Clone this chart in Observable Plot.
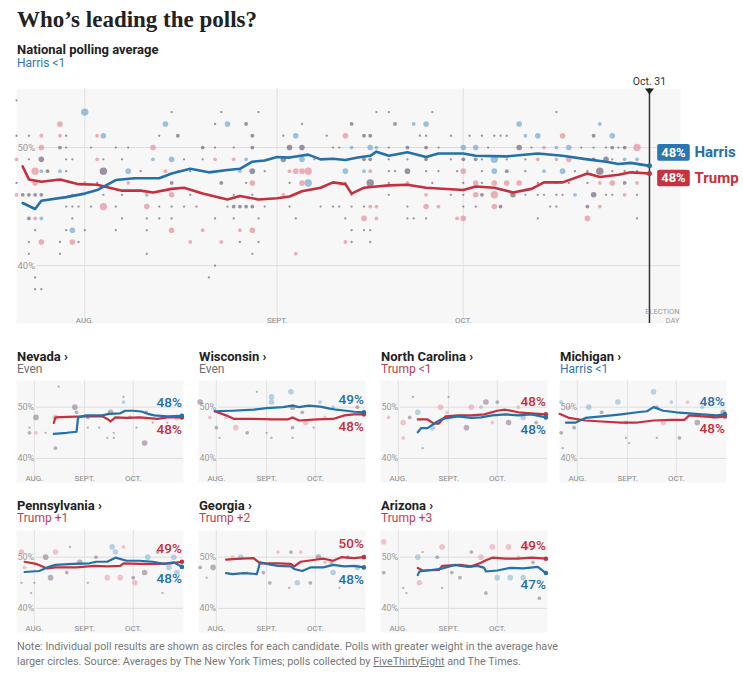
<!DOCTYPE html>
<html lang="en">
<head>
<meta charset="utf-8">
<title>Who’s leading the polls?</title>
<script src="https://cdn.jsdelivr.net/npm/d3@7"></script>
<script src="https://cdn.jsdelivr.net/npm/@observablehq/plot@0.6"></script>
<style>
  html,body{margin:0;padding:0;background:#fff}
  body{position:relative;width:743px;height:675px;overflow:hidden;font-family:Roboto,"Liberation Sans",Arial,sans-serif;color:#121212}
  .a{position:absolute;margin:0;white-space:nowrap}
  #title{left:17px;top:6px;font-family:"Liberation Serif","DejaVu Serif",serif;font-weight:700;font-size:23px;line-height:28px;color:#222}
  #sub{left:17px;top:44px;font-weight:700;font-size:13px;line-height:12px;color:#222}
  #lead{left:17px;top:57.5px;font-size:12px;line-height:11px;color:#2f75ad}
  .st{font-weight:700;font-size:13px;line-height:13px;color:#222}
  .sl{font-size:12px;line-height:12px}
  #note{left:17px;top:640px;font-size:10.8px;line-height:14.5px;color:#777}
  svg{display:block}
</style>
</head>
<body>
<h1 id="title" class="a">Who’s leading the polls?</h1>
<div id="sub" class="a">National polling average</div>
<div id="lead" class="a">Harris &lt;1</div>
<div id="main" class="a" style="left:0;top:70px"></div>
<div id="states"></div>
<p id="note" class="a">Note: Individual poll results are shown as circles for each candidate. Polls with greater weight in the average have<br>larger circles. Source: Averages by The New York Times; polls collected by <u>FiveThirtyEight</u> and The Times.</p>
<script>
// ---------- DATA ----------
const monthTickDates = ["08-01", "09-01", "10-01"];
const monthTickLabels = ["AUG.", "SEPT.", "OCT."];
const yTickValues = [40, 50];

// National polling averages [date, pct]
const natHarris = [["07-22",45.3],["07-24",44.8],["07-25",45.5],["07-29",45.8],["08-01",46.1],["08-03",46.4],["08-06",47.25],["08-09",47.4],["08-13",47.4],["08-15",47.8],["08-18",48.2],["08-21",47.9],["08-24",48.1],["08-26",48.2],["08-28",48.8],["08-30",48.9],["09-01",49.2],["09-03",49.15],["09-06",49.4],["09-08",49.0],["09-10",49.05],["09-12",48.95],["09-14",49.15],["09-16",49.3],["09-17",49.65],["09-19",49.3],["09-22",49.6],["09-25",49.2],["09-27",49.5],["10-01",49.5],["10-03",49.3],["10-08",49.25],["10-13",49.5],["10-17",49.3],["10-21",49.0],["10-24",48.8],["10-26",48.6],["10-28",48.7],["10-31",48.45]];
const natTrump = [["07-22",48.4],["07-23",47.3],["07-25",47.1],["07-28",47.3],["07-31",46.9],["08-03",46.85],["08-05",46.6],["08-07",46.35],["08-10",46.35],["08-12",46.2],["08-15",46.5],["08-17",46.6],["08-20",46.1],["08-24",45.6],["08-26",45.9],["08-29",45.6],["09-01",45.7],["09-03",45.85],["09-05",46.3],["09-08",46.6],["09-10",47.05],["09-12",46.9],["09-13",46.1],["09-15",46.6],["09-17",46.7],["09-19",46.8],["09-22",46.85],["09-25",46.6],["10-01",46.4],["10-03",46.7],["10-06",46.6],["10-09",46.2],["10-12",46.5],["10-14",47.05],["10-17",47.05],["10-21",47.8],["10-23",47.5],["10-26",47.7],["10-28",47.9],["10-31",47.8]];

// National polls [date, pct, weight class 1-4, candidate H/T/B(overlap)]
const natPolls = [
["07-21",54,1,"B"],
["08-01",53,4,"H"],["08-15",53,1,"B"],["08-23",53,1,"B"],["08-29",53,1,"B"],["09-17",53,1,"B"],["09-19",53,1,"B"],["09-26",53,1,"B"],["10-16",53,1,"B"],
["07-28",52,3,"T"],["08-14",52,3,"H"],["08-22",52,1,"B"],["08-24",52,3,"H"],["08-27",52,2,"B"],["09-05",52,1,"B"],["09-13",52,2,"B"],["09-20",52,2,"B"],["09-23",52,2,"H"],["09-25",52,3,"H"],["10-10",52,3,"H"],["10-23",52,2,"H"],
["07-21",51,1,"B"],["07-23",51,1,"B"],["07-25",51,2,"T"],["07-28",51,2,"T"],["07-29",51,1,"B"],["08-03",51,2,"T"],["08-04",51,3,"H"],["08-13",51,1,"B"],["08-16",51,2,"B"],["08-28",51,2,"B"],["09-02",51,1,"B"],["09-04",51,3,"H"],["09-09",51,1,"B"],["09-12",51,3,"T"],["09-15",51,2,"B"],["09-16",51,2,"B"],["09-24",51,1,"B"],["09-25",51,1,"B"],["09-29",51,1,"B"],["10-02",51,1,"B"],["10-04",51,1,"B"],["10-06",51,1,"B"],["10-07",51,1,"B"],["10-08",51,1,"B"],["10-11",51,2,"H"],["10-13",51,3,"H"],["10-17",51,3,"T"],["10-22",51,2,"B"],["10-25",51,3,"H"],
["07-25",50,3,"T"],["07-28",50,2,"B"],["07-29",50,1,"B"],["08-02",50,1,"B"],["08-06",50,1,"B"],["08-08",50,1,"B"],["08-12",50,3,"T"],["08-20",50,2,"B"],["08-22",50,1,"B"],["08-25",50,1,"B"],["08-28",50,2,"B"],["09-03",50,3,"B"],["09-05",50,3,"B"],["09-10",50,1,"B"],["09-11",50,1,"B"],["09-13",50,2,"H"],["09-16",50,3,"H"],["09-17",50,2,"H"],["09-19",50,1,"B"],["09-22",50,2,"B"],["09-25",50,2,"B"],["09-27",50,1,"B"],["10-01",50,3,"H"],["10-03",50,3,"H"],["10-05",50,1,"B"],["10-10",50,3,"B"],["10-12",50,1,"B"],["10-14",50,2,"T"],["10-16",50,2,"H"],["10-18",50,3,"H"],["10-20",50,1,"B"],["10-22",50,1,"B"],["10-24",50,1,"B"],["10-25",50,2,"B"],["10-26",50,1,"B"],["10-27",50,2,"B"],["10-29",50,4,"T"],
["07-21",49,2,"T"],["07-23",49,1,"B"],["07-25",49,3,"B"],["07-29",49,1,"B"],["07-30",49,1,"B"],["08-03",49,2,"T"],["08-04",49,1,"B"],["08-07",49,1,"B"],["08-12",49,2,"H"],["08-15",49,3,"H"],["08-17",49,1,"B"],["08-20",49,1,"B"],["08-22",49,2,"T"],["08-25",49,2,"T"],["08-27",49,2,"H"],["09-02",49,3,"B"],["09-05",49,3,"H"],["09-07",49,1,"B"],["09-15",49,2,"B"],["09-16",49,2,"B"],["09-19",49,1,"B"],["09-22",49,1,"B"],["09-25",49,2,"B"],["09-29",49,1,"B"],["10-01",49,2,"B"],["10-03",49,2,"B"],["10-04",49,1,"B"],["10-06",49,4,"H"],["10-08",49,1,"B"],["10-11",49,1,"B"],["10-13",49,2,"T"],["10-16",49,2,"T"],["10-18",49,3,"T"],["10-22",49,2,"B"],["10-24",49,3,"B"],["10-25",49,1,"B"],["10-27",49,2,"H"],["10-29",49,2,"H"],
["07-24",48,4,"T"],["07-25",48,2,"H"],["07-26",48,2,"B"],["07-28",48,2,"H"],["07-29",48,1,"B"],["08-04",48,4,"B"],["08-08",48,3,"H"],["08-10",48,1,"B"],["08-14",48,2,"T"],["08-16",48,1,"B"],["08-18",48,1,"B"],["08-20",48,1,"B"],["08-23",48,1,"B"],["08-26",48,2,"H"],["08-28",48,3,"B"],["08-30",48,1,"B"],["09-03",48,2,"T"],["09-04",48,3,"T"],["09-05",48,3,"T"],["09-06",48,4,"T"],["09-12",48,3,"H"],["09-15",48,2,"H"],["09-16",48,2,"T"],["09-19",48,1,"B"],["09-20",48,1,"B"],["09-22",48,3,"B"],["09-25",48,1,"B"],["09-27",48,1,"B"],["09-30",48,1,"B"],["10-01",48,3,"T"],["10-04",48,1,"B"],["10-06",48,3,"H"],["10-08",48,2,"B"],["10-11",48,1,"B"],["10-14",48,2,"H"],["10-17",48,3,"H"],["10-19",48,1,"B"],["10-21",48,1,"B"],["10-23",48,4,"B"],["10-25",48,1,"B"],["10-27",48,1,"B"],["10-29",48,1,"B"],
["07-21",47,1,"B"],["07-24",47,3,"T"],["07-30",47,1,"B"],["08-01",47,2,"T"],["08-03",47,1,"B"],["08-08",47,2,"T"],["08-15",47,2,"B"],["08-23",47,2,"B"],["08-27",47,1,"B"],["08-28",47,3,"T"],["09-03",47,1,"B"],["09-05",47,3,"T"],["09-06",47,4,"H"],["09-10",47,1,"B"],["09-12",47,1,"B"],["09-16",47,4,"B"],["09-19",47,1,"B"],["09-22",47,2,"T"],["09-26",47,1,"B"],["10-01",47,1,"B"],["10-03",47,3,"T"],["10-04",47,1,"B"],["10-06",47,3,"T"],["10-08",47,3,"T"],["10-10",47,3,"T"],["10-13",47,1,"B"],["10-16",47,1,"B"],["10-18",47,1,"B"],["10-21",47,1,"B"],["10-23",47,2,"T"],["10-25",47,3,"T"],["10-27",47,2,"B"],["10-29",47,2,"T"],
["07-21",46,2,"T"],["07-22",46,2,"B"],["07-23",46,2,"B"],["07-24",46,2,"B"],["07-25",46,2,"B"],["07-30",46,1,"B"],["08-04",46,1,"B"],["08-07",46,1,"B"],["08-11",46,2,"H"],["08-15",46,3,"T"],["08-18",46,1,"B"],["08-25",46,1,"B"],["08-28",46,1,"B"],["09-02",46,2,"T"],["09-13",46,1,"B"],["09-19",46,1,"B"],["09-25",46,2,"T"],["09-29",46,1,"B"],["10-01",46,1,"B"],["10-03",46,3,"T"],["10-04",46,2,"B"],["10-06",46,4,"T"],["10-09",46,3,"B"],["10-11",46,1,"B"],["10-13",46,1,"B"],["10-14",46,1,"B"],["10-16",46,1,"B"],["10-17",46,1,"B"],["10-19",46,2,"H"],["10-22",46,3,"B"],["10-24",46,1,"B"],["10-25",46,1,"B"],["10-27",46,2,"T"],["10-29",46,1,"B"],
["07-29",45,1,"B"],["07-30",45,1,"B"],["07-31",45,1,"B"],["08-02",45,1,"B"],["08-04",45,4,"T"],["08-06",45,1,"B"],["08-11",45,3,"T"],["08-13",45,1,"B"],["08-15",45,1,"B"],["08-17",45,1,"B"],["08-19",45,1,"B"],["08-24",45,1,"B"],["08-25",45,2,"B"],["08-26",45,2,"B"],["08-27",45,2,"B"],["08-28",45,2,"B"],["08-30",45,1,"B"],["09-03",45,1,"B"],["09-08",45,1,"B"],["09-10",45,1,"B"],["09-11",45,1,"B"],["09-13",45,1,"B"],["09-15",45,1,"B"],["09-16",45,2,"T"],["09-17",45,2,"T"],["09-22",45,1,"B"],["09-25",45,3,"T"],["09-27",45,2,"T"],["10-01",45,1,"B"],["10-03",45,1,"B"],["10-06",45,3,"T"],["10-07",45,2,"B"],["10-15",45,1,"B"],["10-16",45,1,"B"],["10-21",45,2,"B"],["10-23",45,2,"T"],
["07-23",44,2,"B"],["07-24",44,2,"T"],["07-25",44,2,"H"],["07-30",44,1,"B"],["08-07",44,1,"B"],["08-11",44,1,"B"],["08-13",44,1,"B"],["08-15",44,1,"B"],["08-22",44,1,"B"],["08-25",44,1,"B"],["08-29",44,1,"B"],["09-04",44,1,"B"],["09-12",44,1,"B"],["09-15",44,3,"T"],["09-17",44,2,"T"],["09-22",44,1,"B"],["09-23",44,1,"B"],["09-25",44,1,"B"],["09-30",44,2,"T"],["10-01",44,3,"T"],["10-13",44,1,"B"],["10-21",44,3,"T"],["10-29",44,1,"B"],
["07-24",43,1,"B"],["07-29",43,1,"B"],["07-30",43,3,"H"],["08-01",43,1,"B"],["08-06",43,1,"B"],["08-11",43,1,"B"],["08-15",43,3,"T"],["08-20",43,2,"T"],["08-26",43,2,"T"],["08-28",43,3,"T"],["09-13",43,1,"B"],["09-15",43,1,"B"],["09-16",43,1,"B"],
["07-23",42,1,"B"],["07-25",42,3,"T"],["07-28",42,1,"B"],["07-30",42,3,"T"],["07-31",42,1,"B"],["08-18",42,2,"T"],["08-23",42,2,"T"],["08-26",42,1,"B"],["08-29",42,1,"B"],["09-12",42,2,"T"],["09-13",42,1,"B"],["09-16",42,1,"B"],
["07-23",41,1,"B"],["07-28",41,1,"B"],["08-11",41,1,"B"],["08-28",41,1,"B"],["09-04",41,2,"T"],
["08-22",40,1,"B"],
["07-24",39,1,"B"],["08-21",39,1,"B"],
["07-24",38,1,"B"],["07-25",38,1,"B"]
];

// Battleground states
const stateNames = ["Nevada", "Wisconsin", "North Carolina", "Michigan", "Pennsylvania", "Georgia", "Arizona"];
const stateLeads = ["Even", "Even", "Trump <1", "Harris <1", "Trump +1", "Trump +2", "Trump +3"];
const stateHarrisLabels = [48, 49, 48, 48, 48, 48, 47];
const stateTrumpLabels = [48, 48, 48, 48, 49, 50, 49];

const nvHarris = [["08-13",44.8],["08-21",45.0],["08-27",45.2],["08-28",48.0],["09-02",48.4],["09-12",48.4],["09-16",48.7],["09-23",48.8],["09-26",49.3],["10-01",49.3],["10-06",49.15],["10-10",48.7],["10-14",48.4],["10-22",48.2],["10-31",48.3]];
const nvTrump = [["08-13",46.9],["08-14",48.0],["08-21",48.1],["09-02",48.2],["09-12",48.2],["09-15",47.7],["09-17",47.2],["09-20",48.0],["09-27",47.9],["10-05",48.0],["10-16",47.7],["10-22",48.0],["10-31",48.0]];
const nvPolls = [["08-02",48,3,"B"],["07-29",46,1,"B"],["07-29",45,2,"B"],["08-02",45,2,"T"],["08-08",45,1,"B"],["08-14",48,3,"T"],["08-14",42,2,"B"],["08-26",50,3,"B"],["08-27",49,2,"B"],["09-03",48,2,"B"],["09-03",46,1,"B"],["09-10",46,1,"B"],["09-17",49,3,"B"],["09-19",45,1,"B"],["09-15",44,1,"B"],["09-19",44,1,"B"],["09-25",52,1,"B"],["09-25",51,2,"H"],["09-29",48,2,"B"],["10-03",46,1,"B"],["10-08",43,3,"B"],["10-09",49,2,"B"],["10-13",47,1,"B"],["10-22",47,1,"B"],["10-26",46,1,"B"],["10-28",48,3,"T"],["08-16",54,1,"B"]];

const wiHarris = [["07-31",49.2],["08-11",49.3],["08-24",49.5],["09-01",49.8],["09-11",50.0],["09-17",50.3],["09-21",50.0],["09-27",50.3],["10-04",50.1],["10-10",49.7],["10-14",49.5],["10-20",49.3],["10-25",49.1],["10-31",49.0]];
const wiTrump = [["07-31",49.2],["08-07",48.4],["08-12",47.7],["08-24",47.7],["09-05",47.6],["09-14",47.6],["09-17",48.0],["09-21",47.4],["10-02",47.6],["10-12",47.7],["10-19",48.4],["10-25",48.6],["10-31",48.6]];
const wiPolls = [["07-22",51,3,"B"],["07-28",48,2,"T"],["08-01",46,2,"B"],["08-07",48,2,"T"],["08-13",46,3,"T"],["08-03",44,1,"B"],["08-20",45,2,"B"],["08-26",53,1,"B"],["09-04",52,3,"H"],["09-04",51,3,"H"],["09-04",44,1,"B"],["09-01",45,1,"B"],["09-16",53,3,"H"],["09-17",50,3,"B"],["09-17",46,2,"B"],["09-17",44,1,"B"],["09-23",49,2,"B"],["09-25",47,3,"T"],["09-30",46,1,"B"],["10-04",51,2,"H"],["10-07",48,2,"T"],["10-12",50,2,"H"],["10-19",51,2,"H"],["10-23",47,2,"T"],["10-27",50,2,"B"]];

const ncHarris = [["08-13",45.1],["08-15",45.9],["08-19",45.9],["08-24",47.0],["08-28",47.7],["09-07",48.2],["09-15",47.9],["09-21",48.0],["09-28",48.4],["10-06",48.6],["10-14",48.4],["10-22",48.6],["10-31",48.0]];
const ncTrump = [["08-13",47.6],["08-19",47.6],["08-23",46.8],["08-26",46.8],["08-30",48.2],["09-07",48.4],["09-15",48.4],["09-23",48.6],["10-01",49.3],["10-06",49.5],["10-14",49.0],["10-22",48.8],["10-31",48.6]];
const ncPolls = [["07-26",48,2,"T"],["08-04",47,3,"T"],["08-04",44,2,"T"],["08-08",48,2,"B"],["08-13",49,3,"H"],["08-22",46,3,"H"],["08-27",50,3,"T"],["08-31",49,2,"T"],["09-12",46,3,"B"],["09-15",50,3,"T"],["09-21",50,2,"H"],["09-24",51,3,"B"],["09-28",47,2,"T"],["10-01",51,2,"B"],["10-08",47,3,"B"],["10-14",50,2,"T"],["10-17",48,3,"H"],["10-19",51,2,"T"],["10-25",47,2,"B"],["08-10",52,1,"B"],["08-16",42,1,"B"],["09-01",52,1,"B"]];

const miHarris = [["07-25",47.0],["07-31",47.0],["08-06",47.9],["08-16",48.2],["08-28",48.6],["09-07",49.0],["09-13",49.2],["09-17",50.0],["09-23",49.3],["10-01",49.0],["10-09",48.8],["10-17",48.6],["10-26",48.4],["10-31",48.6]];
const miTrump = [["07-21",48.7],["07-27",47.9],["08-06",47.4],["08-16",47.2],["08-28",47.0],["09-07",47.0],["09-17",47.4],["09-28",47.5],["10-06",47.5],["10-09",48.4],["10-17",48.2],["10-26",48.0],["10-31",48.2]];
const miPolls = [["07-22",51,2,"H"],["07-22",45,2,"B"],["07-23",42,1,"B"],["07-27",50,2,"T"],["07-30",46,2,"B"],["08-08",50,3,"H"],["08-16",49,2,"B"],["08-26",51,3,"H"],["08-31",47,2,"B"],["08-31",44,1,"B"],["09-02",43,1,"B"],["09-17",53,3,"H"],["09-19",50,2,"B"],["09-19",44,1,"B"],["09-23",47,3,"T"],["09-28",51,2,"H"],["10-03",44,2,"B"],["10-08",51,2,"T"],["10-14",47,3,"B"],["10-17",50,2,"H"],["10-24",48,2,"T"],["10-30",49,3,"B"]];

const paHarris = [["07-26",47.1],["08-04",47.3],["08-09",48.0],["08-14",48.5],["08-25",48.7],["09-04",48.8],["09-08",49.1],["09-15",49.1],["09-20",49.9],["09-27",49.3],["10-05",49.3],["10-13",49.1],["10-20",48.7],["10-26",49.0],["10-31",48.1]];
const paTrump = [["07-26",49.1],["08-02",48.7],["08-09",47.8],["08-14",48.0],["08-27",48.0],["09-07",48.3],["09-15",48.2],["09-23",48.3],["09-25",48.8],["10-05",48.7],["10-16",48.7],["10-24",48.8],["10-31",49.1]];
const paPolls = [["07-24",51,3,"T"],["07-26",48,2,"T"],["07-24",45,1,"B"],["07-30",43,1,"B"],["08-01",45,1,"B"],["08-08",50,3,"B"],["08-11",46,3,"B"],["08-14",51,3,"T"],["08-21",47,2,"B"],["08-23",52,1,"B"],["08-29",49,3,"B"],["09-03",45,1,"B"],["09-08",50,2,"B"],["09-15",46,3,"T"],["09-18",52,3,"H"],["09-20",51,3,"H"],["09-23",46,3,"T"],["09-25",52,2,"T"],["10-01",46,2,"B"],["10-02",45,3,"T"],["10-08",47,3,"B"],["10-10",50,3,"H"],["10-16",51,2,"B"],["10-19",43,1,"B"],["10-23",48,3,"H"],["10-26",50,3,"H"],["10-28",47,3,"H"]];

const gaHarris = [["08-07",46.9],["08-11",46.7],["08-18",46.9],["08-26",46.7],["08-28",49.0],["09-01",48.7],["09-08",48.3],["09-16",48.2],["09-18",47.7],["09-23",47.3],["09-28",48.0],["10-06",48.0],["10-12",48.5],["10-19",48.2],["10-25",48.3],["10-31",48.0]];
const gaTrump = [["08-07",49.5],["08-16",49.7],["08-24",49.8],["08-28",48.8],["09-08",48.8],["09-16",48.7],["09-18",48.2],["09-22",49.1],["10-01",49.5],["10-06",49.7],["10-12",49.3],["10-17",50.0],["10-25",49.8],["10-31",50.0]];
const gaPolls = [["07-22",48,2,"B"],["07-30",48,3,"B"],["07-26",46,1,"B"],["08-11",50,2,"T"],["08-16",50,3,"H"],["08-20",47,1,"B"],["08-30",47,2,"B"],["09-03",45,2,"B"],["09-08",51,2,"T"],["09-15",44,1,"B"],["09-16",51,2,"B"],["09-20",45,3,"H"],["09-22",51,2,"T"],["09-28",45,2,"B"],["10-03",50,3,"B"],["10-07",49,2,"T"],["10-11",49,2,"B"],["10-12",47,3,"H"],["10-16",44,1,"B"],["10-17",52,2,"T"],["10-21",50,2,"B"],["10-27",48,3,"H"]];

const azHarris = [["08-13",46.5],["08-14",47.2],["08-19",47.4],["08-27",47.7],["09-05",48.5],["09-13",48.1],["09-19",48.3],["09-23",47.9],["09-24",47.2],["10-01",47.4],["10-09",47.9],["10-17",47.8],["10-26",48.1],["10-31",46.9]];
const azTrump = [["08-13",47.9],["08-16",47.4],["08-26",47.5],["08-28",48.3],["09-08",48.5],["09-15",48.2],["09-21",48.9],["09-24",49.4],["09-28",49.9],["10-06",49.7],["10-14",49.7],["10-22",49.9],["10-31",49.7]];
const azPolls = [["07-23",53,3,"T"],["07-23",47,2,"B"],["08-04",44,1,"B"],["08-06",43,1,"B"],["08-13",50,3,"H"],["08-14",45,3,"T"],["08-16",51,1,"B"],["08-25",50,2,"B"],["08-28",44,1,"B"],["08-28",52,3,"T"],["09-03",47,2,"B"],["09-08",46,2,"B"],["09-15",51,2,"B"],["09-21",50,3,"T"],["09-24",43,2,"B"],["09-28",52,3,"T"],["10-01",46,3,"H"],["10-08",52,3,"T"],["10-09",46,3,"H"],["10-14",50,2,"T"],["10-17",46,3,"H"],["10-19",52,3,"T"],["10-23",49,2,"B"],["10-27",42,2,"B"]];

const stateHarrisLines = [nvHarris, wiHarris, ncHarris, miHarris, paHarris, gaHarris, azHarris];
const stateTrumpLines = [nvTrump, wiTrump, ncTrump, miTrump, paTrump, gaTrump, azTrump];
const statePolls = [nvPolls, wiPolls, ncPolls, miPolls, paPolls, gaPolls, azPolls];

// ---------- HELPERS & STYLE ----------
const BLUE = "#2470a8", RED = "#c62f3d";
const BLUE_BOX = "#2b76b0", RED_BOX = "#c8313e";
const BG = "#f7f7f7";
const parse = s => new Date(`2024-${s}T00:00:00Z`);
const lineRows = arr => arr.map(([d, v]) => ({date: parse(d), pct: v}));
const pollRows = arr => arr.map(([d, v, s, c]) => ({date: parse(d), pct: v, size: s, cand: c}));
const RADIUS = [0, 1.15, 1.9, 2.8, 3.7];
const dotColor = {type: "ordinal", domain: ["H", "T", "B"], range: ["#78abd0", "#e4929e", "#7a6880"]};
const rScale = {type: "linear", domain: [0, 10], range: [0, 10]};
const monthTicks = monthTickDates.map(parse);

const boxSymbol = {draw(ctx) {
  const w = 16.3, h = 8.3, r = 2;
  ctx.moveTo(-w + r, -h); ctx.lineTo(w - r, -h); ctx.arcTo(w, -h, w, -h + r, r);
  ctx.lineTo(w, h - r); ctx.arcTo(w, h, w - r, h, r);
  ctx.lineTo(-w + r, h); ctx.arcTo(-w, h, -w, h - r, r);
  ctx.lineTo(-w, -h + r); ctx.arcTo(-w, -h, -w + r, -h, r); ctx.closePath();
}};
const triSymbol = {draw(ctx) { ctx.moveTo(-4.5, 0); ctx.lineTo(4.5, 0); ctx.lineTo(0, 6); ctx.closePath(); }};

function baseMarks(opts) {
  return [
    Plot.frame({fill: BG, stroke: null}),
    Plot.ruleX(monthTicks, {x: d => d, stroke: "#e2e2e2", strokeWidth: 1}),
    Plot.ruleY(yTickValues, {y: d => d, stroke: "#dddddd", insetLeft: opts.gridInset}),
    Plot.text(yTickValues, {y: d => d, text: d => d + "%", frameAnchor: "left", textAnchor: "start", dx: 1, fill: "#9a9a9a", fontSize: opts.tickFont}),
    Plot.text(monthTicks, {x: d => d, text: (d, i) => monthTickLabels[i], frameAnchor: "bottom", lineAnchor: "bottom", dy: opts.monthDy, fill: "#8a8a8a", fontSize: 8})
  ];
}

// ---------- MAIN CHART ----------
const natH = lineRows(natHarris), natT = lineRows(natTrump);
const natHEnd = natH[natH.length - 1], natTEnd = natT[natT.length - 1];
const oct31 = parse("10-31"), electionDay = parse("11-05");
const natLabels = [
  {row: natHEnd, name: "Harris", box: BLUE_BOX, color: BLUE, dy: -13.5},
  {row: natTEnd, name: "Trump", box: RED_BOX, color: RED, dy: 4.5}
];

const mainPlot = Plot.plot({
  width: 743, height: 260,
  marginTop: 18, marginBottom: 7, marginLeft: 16, marginRight: 63,
  x: {type: "utc", domain: [parse("07-21"), electionDay], axis: null},
  y: {domain: [35.1, 55], axis: null},
  r: rScale, color: dotColor,
  style: {fontFamily: "Roboto, 'Liberation Sans', sans-serif", overflow: "visible", background: "transparent"},
  marks: [
    ...baseMarks({gridInset: 20, tickFont: 9.5, monthDy: -1}),
    Plot.dot(pollRows(natPolls), {x: "date", y: "pct", r: d => RADIUS[d.size], fill: "cand", fillOpacity: 0.72}),
    Plot.ruleX([oct31], {x: d => d, stroke: "#333", strokeWidth: 1.5}),
    Plot.dot([oct31], {x: d => d, frameAnchor: "top", symbol: triSymbol, fill: "#222", r: 5}),
    Plot.text([oct31], {x: d => d, text: () => "Oct. 31", frameAnchor: "top", lineAnchor: "bottom", dy: -4, fontSize: 10.5, fill: "#333"}),
    Plot.text([electionDay], {x: d => d, text: () => "ELECTION\nDAY", frameAnchor: "bottom", lineAnchor: "bottom", textAnchor: "end", dx: -1, dy: -1, fontSize: 7.5, lineHeight: 1.15, fill: "#9a9a9a"}),
    Plot.line(natT, {x: "date", y: "pct", stroke: RED, strokeWidth: 2.6}),
    Plot.line(natH, {x: "date", y: "pct", stroke: BLUE, strokeWidth: 2.6}),
    Plot.dot([natTEnd], {x: "date", y: "pct", fill: RED, r: 2.5}),
    Plot.dot([natHEnd], {x: "date", y: "pct", fill: BLUE, r: 2.5}),
    ...natLabels.flatMap(l => [
      Plot.dot([l.row], {x: "date", y: "pct", symbol: boxSymbol, fill: l.box, r: 5, dx: 24, dy: l.dy}),
      Plot.text([l.row], {x: "date", y: "pct", text: d => Math.round(d.pct) + "%", fill: "white", fontWeight: 700, fontSize: 13, dx: 24, dy: l.dy}),
      Plot.text([l.row], {x: "date", y: "pct", text: () => l.name, fill: l.color, fontWeight: 700, fontSize: 15, textAnchor: "start", dx: 45, dy: l.dy})
    ])
  ]
});
document.getElementById("main").appendChild(mainPlot);

// ---------- STATE SMALL MULTIPLES ----------
const colLeft = [16, 198, 380, 559];
const rowTop = [380, 530];
const rowTitleTop = [349.8, 498.8];
const statesEl = document.getElementById("states");

stateNames.forEach((name, i) => {
  const col = i < 4 ? i : i - 4, row = i < 4 ? 0 : 1;
  const left = colLeft[col];
  const lead = stateLeads[i];
  const leadColor = lead.startsWith("Trump") ? "#c23c50" : lead.startsWith("Harris") ? "#2f75ad" : "#6f6f6f";

  const t = document.createElement("div");
  t.className = "a st";
  t.style.left = (left + 1) + "px"; t.style.top = rowTitleTop[row] + "px";
  t.textContent = name + " ›";
  statesEl.appendChild(t);
  const s = document.createElement("div");
  s.className = "a sl";
  s.style.left = (left + 1) + "px"; s.style.top = (rowTitleTop[row] + 13.6) + "px";
  s.style.color = leadColor;
  s.textContent = lead;
  statesEl.appendChild(s);

  const H = lineRows(stateHarrisLines[i]), T = lineRows(stateTrumpLines[i]);
  const hEnd = H[H.length - 1], tEnd = T[T.length - 1];
  const harrisTop = hEnd.pct >= tEnd.pct;

  const chart = Plot.plot({
    width: 167, height: 102, margin: 0,
    x: {type: "utc", domain: [parse("07-21"), parse("11-01")], axis: null},
    y: {domain: [35.3, 55.2], axis: null},
    r: rScale, color: dotColor,
    style: {fontFamily: "Roboto, 'Liberation Sans', sans-serif", overflow: "visible", background: "transparent"},
    marks: [
      ...baseMarks({gridInset: 20, tickFont: 9, monthDy: -2}),
      Plot.dot(pollRows(statePolls[i]), {x: "date", y: "pct", r: d => RADIUS[d.size], fill: "cand", fillOpacity: 0.5}),
      Plot.line(T, {x: "date", y: "pct", stroke: RED, strokeWidth: 2.2}),
      Plot.line(H, {x: "date", y: "pct", stroke: BLUE, strokeWidth: 2.2}),
      Plot.dot([tEnd], {x: "date", y: "pct", fill: RED, r: 2.3}),
      Plot.dot([hEnd], {x: "date", y: "pct", fill: BLUE, r: 2.3}),
      Plot.text([hEnd], {x: "date", y: "pct", text: () => stateHarrisLabels[i] + "%", textAnchor: "end", dx: 0, dy: harrisTop ? -13 : 12, fill: BLUE, fontSize: 13.5, fontWeight: 500}),
      Plot.text([tEnd], {x: "date", y: "pct", text: () => stateTrumpLabels[i] + "%", textAnchor: "end", dx: 0, dy: harrisTop ? 12 : -13, fill: RED, fontSize: 13.5, fontWeight: 500})
    ]
  });
  const wrap = document.createElement("div");
  wrap.className = "a";
  wrap.style.left = left + "px"; wrap.style.top = rowTop[row] + "px";
  wrap.appendChild(chart);
  statesEl.appendChild(wrap);
});
</script>
</body>
</html>
